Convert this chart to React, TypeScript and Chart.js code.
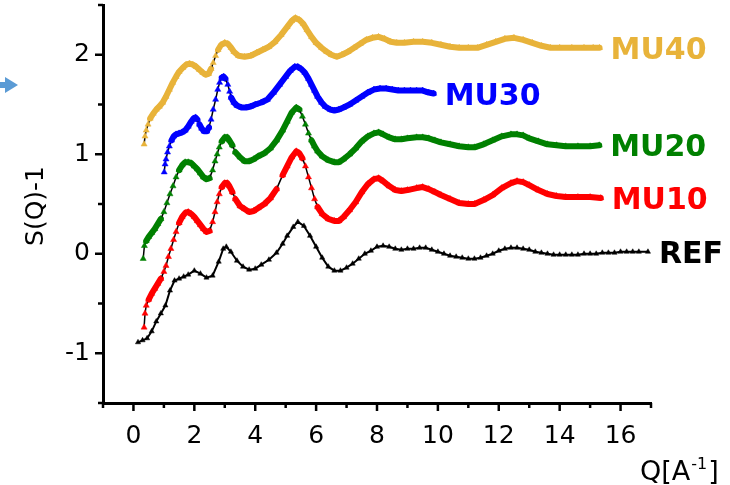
import React, { useEffect, useRef } from 'react';
import { Chart, registerables } from 'chart.js';

Chart.register(...registerables);

// ---------- data ----------
const refQ = [0.15, 0.3, 0.45, 0.6, 0.75, 0.9, 1.05, 1.2, 1.35, 1.5, 1.65, 1.8, 2.0, 2.2, 2.4, 2.6, 2.8, 2.95, 3.05, 3.2, 3.4, 3.6, 3.8, 4.0, 4.2, 4.45, 4.7, 4.9, 5.05, 5.25, 5.4, 5.6, 5.8, 6.0, 6.2, 6.4, 6.6, 6.8, 7.0, 7.2, 7.4, 7.6, 7.8, 8.0, 8.2, 8.4, 8.6, 8.8, 9.0, 9.2, 9.4, 9.6, 9.8, 10.0, 10.2, 10.4, 10.6, 10.8, 11.0, 11.2, 11.4, 11.6, 11.8, 12.0, 12.2, 12.4, 12.6, 12.8, 13.0, 13.2, 13.4, 13.6, 13.8, 14.0, 14.2, 14.4, 14.6, 14.8, 15.0, 15.2, 15.4, 15.6, 15.8, 16.0, 16.2, 16.4, 16.6, 16.9];
const refS = [-0.89, -0.87, -0.85, -0.78, -0.68, -0.6, -0.52, -0.37, -0.27, -0.25, -0.23, -0.21, -0.17, -0.2, -0.24, -0.22, -0.08, 0.05, 0.07, 0.02, -0.07, -0.13, -0.16, -0.15, -0.11, -0.06, 0.01, 0.1, 0.18, 0.27, 0.32, 0.28, 0.18, 0.07, -0.04, -0.13, -0.17, -0.17, -0.14, -0.1, -0.05, 0.0, 0.03, 0.07, 0.08, 0.07, 0.05, 0.04, 0.05, 0.05, 0.06, 0.06, 0.04, 0.02, 0.0, -0.02, -0.03, -0.04, -0.05, -0.05, -0.04, -0.02, 0.0, 0.03, 0.05, 0.06, 0.06, 0.05, 0.04, 0.02, 0.01, 0.0, -0.01, -0.01, -0.01, -0.01, -0.01, 0.0, 0.0, 0.0, 0.01, 0.01, 0.01, 0.02, 0.02, 0.02, 0.02, 0.02];

const mu10Q = [0.35, 0.38, 0.42, 0.5, 0.6, 0.7, 0.8, 0.9, 1.0, 1.07, 1.15, 1.23, 1.32, 1.4, 1.5, 1.6, 1.7, 1.8, 1.9, 2.0, 2.1, 2.2, 2.3, 2.4, 2.5, 2.6, 2.68, 2.75, 2.82, 2.9, 3.0, 3.08, 3.15, 3.25, 3.35, 3.5, 3.65, 3.8, 3.95, 4.1, 4.3, 4.5, 4.7, 4.9, 5.05, 5.2, 5.35, 5.45, 5.55, 5.65, 5.75, 5.85, 5.95, 6.05, 6.2, 6.4, 6.6, 6.75, 6.9, 7.1, 7.3, 7.5, 7.7, 7.9, 8.05, 8.2, 8.4, 8.6, 8.8, 9.0, 9.3, 9.5, 9.7, 9.9, 10.1, 10.4, 10.7, 11.0, 11.2, 11.5, 11.8, 12.1, 12.4, 12.6, 12.8, 13.0, 13.3, 13.6, 13.9, 14.2, 14.6, 15.0, 15.35];
const mu10S = [-0.74, -0.6, -0.52, -0.46, -0.4, -0.35, -0.3, -0.25, -0.18, -0.12, -0.03, 0.05, 0.14, 0.22, 0.31, 0.37, 0.41, 0.42, 0.4, 0.37, 0.33, 0.29, 0.25, 0.22, 0.23, 0.32, 0.42, 0.52, 0.6, 0.67, 0.71, 0.71, 0.68, 0.62, 0.55, 0.48, 0.45, 0.42, 0.43, 0.46, 0.5, 0.56, 0.65, 0.79, 0.88, 0.97, 1.03, 1.01, 0.96, 0.88, 0.77, 0.66, 0.55, 0.47, 0.4, 0.35, 0.33, 0.33, 0.37, 0.44, 0.52, 0.62, 0.7, 0.75, 0.76, 0.73, 0.68, 0.64, 0.63, 0.64, 0.66, 0.67, 0.65, 0.62, 0.59, 0.55, 0.51, 0.5, 0.5, 0.54, 0.59, 0.66, 0.71, 0.73, 0.72, 0.69, 0.64, 0.6, 0.58, 0.57, 0.57, 0.57, 0.56];

const mu20Q = [0.32, 0.36, 0.42, 0.5, 0.6, 0.7, 0.8, 0.9, 1.0, 1.1, 1.2, 1.3, 1.4, 1.5, 1.6, 1.7, 1.8, 1.9, 2.0, 2.1, 2.2, 2.3, 2.4, 2.5, 2.6, 2.68, 2.75, 2.82, 2.9, 3.0, 3.08, 3.15, 3.25, 3.35, 3.5, 3.65, 3.8, 3.95, 4.1, 4.3, 4.5, 4.7, 4.9, 5.05, 5.2, 5.35, 5.45, 5.55, 5.65, 5.75, 5.85, 5.95, 6.05, 6.2, 6.4, 6.6, 6.75, 6.9, 7.1, 7.3, 7.5, 7.7, 7.9, 8.05, 8.2, 8.4, 8.6, 8.8, 9.0, 9.3, 9.5, 9.7, 9.9, 10.1, 10.4, 10.7, 11.0, 11.2, 11.5, 11.8, 12.1, 12.4, 12.6, 12.8, 13.0, 13.3, 13.6, 13.9, 14.2, 14.6, 15.0, 15.3];
const mu20S = [-0.05, 0.08, 0.13, 0.17, 0.21, 0.25, 0.3, 0.35, 0.42, 0.51, 0.6, 0.68, 0.77, 0.84, 0.89, 0.92, 0.92, 0.91, 0.88, 0.85, 0.81, 0.77, 0.75, 0.76, 0.84, 0.93, 1.0, 1.07, 1.13, 1.17, 1.17, 1.14, 1.09, 1.02, 0.97, 0.93, 0.93, 0.95, 0.98, 1.01, 1.06, 1.14, 1.24, 1.33, 1.42, 1.47, 1.45, 1.38, 1.3, 1.21, 1.14, 1.08, 1.03, 0.98, 0.94, 0.92, 0.92, 0.95, 1.0, 1.06, 1.13, 1.18, 1.21, 1.22, 1.2, 1.17, 1.15, 1.15, 1.16, 1.17, 1.17, 1.16, 1.14, 1.12, 1.1, 1.08, 1.07, 1.07, 1.1, 1.14, 1.18, 1.2, 1.2, 1.19, 1.16, 1.13, 1.1, 1.09, 1.08, 1.08, 1.08, 1.09];

const mu30Q = [1.01, 1.04, 1.07, 1.12, 1.18, 1.25, 1.32, 1.4, 1.5, 1.6, 1.7, 1.8, 1.9, 1.97, 2.04, 2.1, 2.17, 2.24, 2.32, 2.41, 2.48, 2.55, 2.62, 2.7, 2.77, 2.83, 2.9, 2.96, 3.02, 3.1, 3.16, 3.21, 3.3, 3.4, 3.55, 3.7, 3.85, 4.0, 4.2, 4.4, 4.6, 4.8, 5.0, 5.15, 5.3, 5.4, 5.5, 5.63, 5.75, 5.85, 5.95, 6.05, 6.18, 6.3, 6.46, 6.6, 6.75, 6.9, 7.1, 7.3, 7.5, 7.7, 7.9, 8.1, 8.3, 8.5, 8.7, 8.9, 9.1, 9.3, 9.5, 9.7, 9.86];
const mu30S = [0.82, 0.9, 0.95, 1.02, 1.08, 1.14, 1.18, 1.2, 1.21, 1.22, 1.24, 1.28, 1.33, 1.36, 1.37, 1.35, 1.3, 1.26, 1.23, 1.23, 1.27, 1.35, 1.45, 1.55, 1.65, 1.72, 1.77, 1.78, 1.76, 1.7, 1.63, 1.57, 1.52, 1.49, 1.47, 1.47, 1.48, 1.5, 1.52, 1.55, 1.62, 1.7, 1.78, 1.84, 1.88, 1.88, 1.86, 1.82, 1.76, 1.7, 1.64, 1.58, 1.52, 1.48, 1.45, 1.44, 1.45, 1.47, 1.5, 1.54, 1.58, 1.62, 1.65, 1.66, 1.66, 1.65, 1.64, 1.64, 1.64, 1.64, 1.64, 1.62, 1.61];

const mu40Q = [0.35, 0.38, 0.42, 0.48, 0.55, 0.65, 0.75, 0.85, 0.96, 1.07, 1.18, 1.29, 1.4, 1.5, 1.62, 1.73, 1.84, 1.95, 2.06, 2.17, 2.28, 2.38, 2.47, 2.55, 2.62, 2.7, 2.78, 2.88, 3.0, 3.1, 3.21, 3.3, 3.45, 3.65, 3.85, 4.05, 4.25, 4.45, 4.65, 4.85, 5.05, 5.2, 5.32, 5.45, 5.58, 5.7, 5.85, 6.0, 6.18, 6.35, 6.5, 6.68, 6.85, 7.05, 7.25, 7.45, 7.65, 7.85, 8.05, 8.25, 8.45, 8.65, 8.9, 9.2, 9.5, 9.8, 10.1, 10.4, 10.7, 11.0, 11.3, 11.6, 11.9, 12.2, 12.5, 12.8, 13.1, 13.4, 13.7, 14.0, 14.4, 14.8, 15.1, 15.31];
const mu40S = [1.1, 1.18, 1.24, 1.3, 1.36, 1.41, 1.45, 1.48, 1.52, 1.58, 1.65, 1.72, 1.78, 1.83, 1.87, 1.9, 1.91, 1.9, 1.88, 1.85, 1.82, 1.8, 1.81, 1.86, 1.92, 1.99, 2.05, 2.1, 2.12, 2.11, 2.07, 2.03, 1.99, 1.98, 1.99, 2.02, 2.05, 2.08, 2.13, 2.2, 2.28, 2.34, 2.37, 2.35, 2.31, 2.25, 2.18, 2.12, 2.07, 2.03, 2.0, 1.98, 2.0, 2.03, 2.07, 2.11, 2.15, 2.17, 2.18, 2.16, 2.13, 2.12, 2.12, 2.13, 2.13, 2.12, 2.1, 2.08, 2.07, 2.07, 2.07, 2.1, 2.13, 2.16, 2.17, 2.15, 2.12, 2.09, 2.07, 2.07, 2.07, 2.07, 2.07, 2.07];

const seriesNames = ['REF', 'MU10', 'MU20', 'MU30', 'MU40'];
const seriesColors = ['#000000', '#FF0000', '#008000', '#0000FF', '#E8B33A'];
const seriesQ = [refQ, mu10Q, mu20Q, mu30Q, mu40Q];
const seriesS = [refS, mu10S, mu20S, mu30S, mu40S];

const xTickValues = [0, 2, 4, 6, 8, 10, 12, 14, 16];
const xMinorValues = [-1, 1, 3, 5, 7, 9, 11, 13, 15, 17];
const yTickValues = [-1, 0, 1, 2];
const yMinorValues = [-1.5, -0.5, 0.5, 1.5, 2.5];
const xTitle = 'Q[A';
const xTitleSup = '-1';
const xTitleEnd = ']';
const yTitle = 'S(Q)-1';

const FONT = "'DejaVu Sans', sans-serif";

const steep = (c: any) => Math.abs(c.p1.y - c.p0.y) > 2.2 * Math.abs(c.p1.x - c.p0.x);

const decorPlugin = {
  id: 'decor',
  afterDraw(chart: any) {
    const ctx = chart.ctx as CanvasRenderingContext2D;
    const xs = chart.scales.x;
    const ys = chart.scales.y;
    const area = chart.chartArea;
    ctx.save();
    // tick marks
    ctx.strokeStyle = '#000';
    ctx.lineWidth = 2.5;
    ctx.lineCap = 'butt';
    const xTick = (v: number, len: number) => {
      const px = xs.getPixelForValue(v);
      ctx.beginPath();
      ctx.moveTo(px, area.bottom);
      ctx.lineTo(px, area.bottom + len);
      ctx.stroke();
    };
    const yTick = (v: number, len: number) => {
      const py = ys.getPixelForValue(v);
      ctx.beginPath();
      ctx.moveTo(area.left, py);
      ctx.lineTo(area.left - len, py);
      ctx.stroke();
    };
    xTickValues.forEach((v) => xTick(v, 8));
    xMinorValues.forEach((v) => xTick(v, 5));
    yTickValues.forEach((v) => yTick(v, 8));
    yMinorValues.forEach((v) => yTick(v, 5));

    // y title
    ctx.fillStyle = '#000';
    ctx.save();
    ctx.translate(36, ys.getPixelForValue(0.48));
    ctx.rotate(-Math.PI / 2);
    ctx.font = `25px ${FONT}`;
    ctx.textAlign = 'center';
    ctx.textBaseline = 'middle';
    ctx.fillText(yTitle, 0, 0);
    ctx.restore();

    // x title with superscript
    ctx.font = `27px ${FONT}`;
    ctx.textAlign = 'left';
    ctx.textBaseline = 'alphabetic';
    let tx = 640;
    const ty = 480;
    ctx.fillText(xTitle, tx, ty);
    tx += ctx.measureText(xTitle).width + 1;
    ctx.font = `16px ${FONT}`;
    ctx.fillText(xTitleSup, tx, ty - 11);
    tx += ctx.measureText(xTitleSup).width + 1;
    ctx.font = `27px ${FONT}`;
    ctx.fillText(xTitleEnd, tx, ty);

    // series labels next to last points
    ctx.font = `bold 30px ${FONT}`;
    ctx.textBaseline = 'alphabetic';
    seriesNames.forEach((name, i) => {
      const q = seriesQ[i];
      const s = seriesS[i];
      const px = xs.getPixelForValue(q[q.length - 1]);
      const py = ys.getPixelForValue(s[s.length - 1]);
      ctx.fillStyle = seriesColors[i];
      ctx.fillText(name, px + 11, py + 11);
    });

    // small blue arrow at the left
    ctx.fillStyle = '#5B9BD5';
    ctx.beginPath();
    ctx.moveTo(5, 77);
    ctx.lineTo(18, 85);
    ctx.lineTo(5, 93);
    ctx.closePath();
    ctx.fill();
    ctx.fillRect(0, 82, 6, 6);
    ctx.restore();
  },
};

export default function App() {
  const canvasRef = useRef<HTMLCanvasElement | null>(null);

  useEffect(() => {
    if (!canvasRef.current) return;
    const datasets = seriesNames.map((name, i) => {
      const color = seriesColors[i];
      const data = seriesQ[i].map((q, j) => ({ x: q, y: seriesS[i][j] }));
      if (i === 0) {
        return {
          label: name,
          data,
          borderColor: '#000',
          borderWidth: 2,
          pointStyle: 'triangle',
          pointRadius: 3,
          pointBackgroundColor: '#000',
          pointBorderColor: '#000',
          pointBorderWidth: 0.5,
          tension: 0,
        };
      }
      return {
        label: name,
        data,
        borderColor: color,
        borderWidth: 6,
        borderCapStyle: 'round',
        borderJoinStyle: 'round',
        pointStyle: 'triangle',
        pointRadius: 3.5,
        pointBackgroundColor: color,
        pointBorderColor: color,
        pointBorderWidth: 0.5,
        tension: 0,
        segment: {
          borderColor: (c: any) => (steep(c) ? '#000' : color),
          borderWidth: (c: any) => (steep(c) ? 1.5 : 6),
        },
      };
    });

    const chart = new Chart(canvasRef.current, {
      type: 'line',
      data: { datasets: datasets as any },
      options: {
        animation: false,
        responsive: false,
        events: [],
        layout: { padding: { top: 5, right: 79, bottom: 0, left: 0 } },
        plugins: { legend: { display: false }, tooltip: { enabled: false } },
        scales: {
          x: {
            type: 'linear',
            min: -1,
            max: 17,
            afterBuildTicks: (scale: any) => {
              scale.ticks = xTickValues.map((v) => ({ value: v }));
            },
            afterFit: (scale: any) => {
              scale.height = 82;
              scale.paddingLeft = 0;
              scale.paddingRight = 0;
            },
            grid: { display: true, drawOnChartArea: false, drawTicks: false },
            border: { display: true, color: '#000', width: 3 },
            ticks: {
              font: { family: FONT, size: 25 },
              color: '#000',
              padding: 18,
              maxRotation: 0,
              autoSkip: false,
            },
          },
          y: {
            type: 'linear',
            min: -1.5,
            max: 2.5,
            afterBuildTicks: (scale: any) => {
              scale.ticks = yTickValues.map((v) => ({ value: v }));
            },
            afterFit: (scale: any) => {
              scale.width = 103;
              scale.paddingTop = 0;
              scale.paddingBottom = 0;
            },
            grid: { display: true, drawOnChartArea: false, drawTicks: false },
            border: { display: true, color: '#000', width: 3 },
            ticks: {
              font: { family: FONT, size: 25 },
              color: '#000',
              padding: 13,
              autoSkip: false,
            },
          },
        },
      },
      plugins: [decorPlugin],
    });
    return () => chart.destroy();
  }, []);

  return (
    <div style={{ position: 'absolute', left: 0, top: 0, width: 730, height: 485, background: '#fff' }}>
      <canvas ref={canvasRef} width={730} height={485} style={{ display: 'block', width: 730, height: 485 }} />
    </div>
  );
}
